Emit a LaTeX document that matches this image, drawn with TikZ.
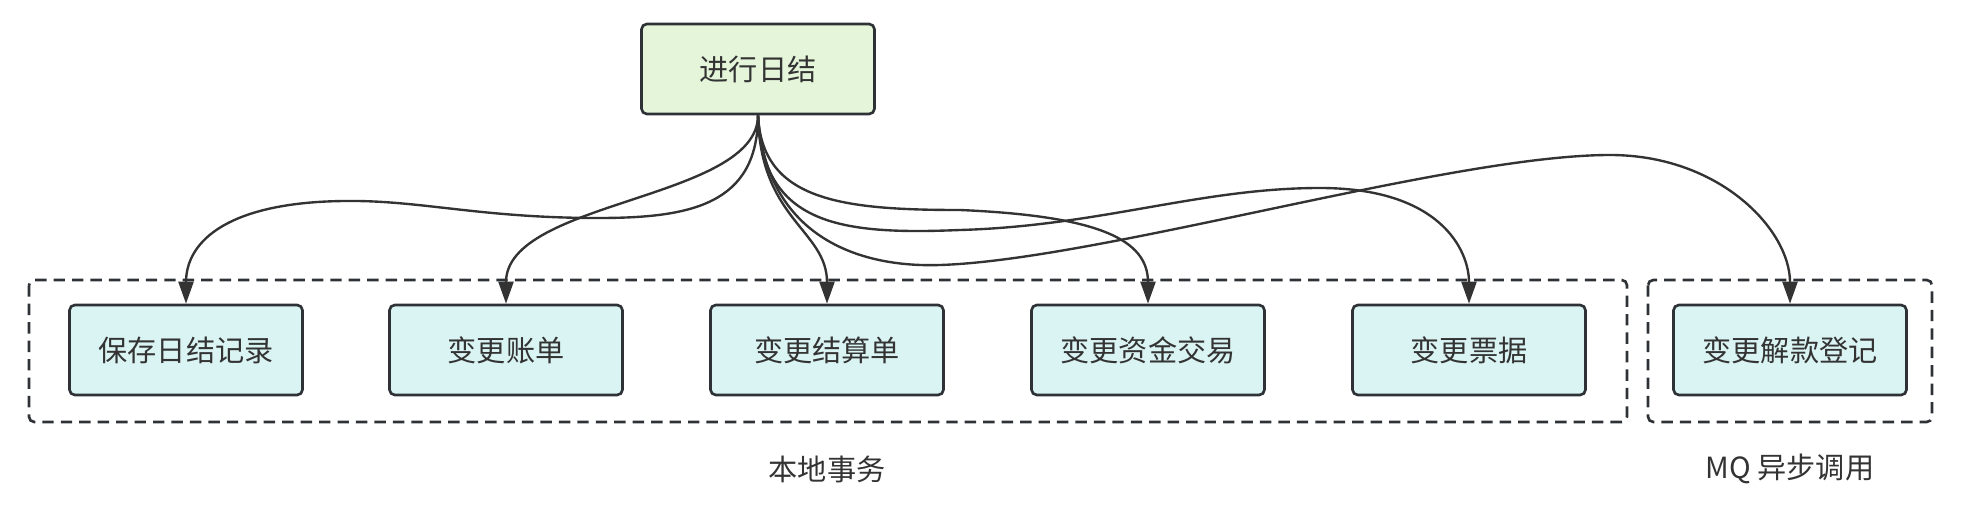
\documentclass[tikz,border=0pt]{standalone}
\usepackage{fontspec}
\setmainfont{Noto Sans CJK SC}
\usetikzlibrary{arrows.meta}
\definecolor{inkgray}{HTML}{333333}
\definecolor{boxline}{HTML}{2E3236}
\definecolor{startfill}{HTML}{E4F5DA}
\definecolor{taskfill}{HTML}{DAF4F3}
\tikzstyle{startnode}=[draw=boxline, fill=startfill, line width=1.5pt, rounded corners=3pt, minimum width=4.66cm, minimum height=1.8cm, inner sep=0pt, text=inkgray, font=\fontsize{16.6}{20}\selectfont]
\tikzstyle{tasknode}=[startnode, fill=taskfill]
\tikzstyle{grouptitle}=[text=inkgray, font=\fontsize{16.6}{20}\selectfont]
\tikzstyle{group}=[boxline, line width=1.5pt, dash pattern=on 6.5pt off 4pt, rounded corners=3pt]
\tikzstyle{call}=[inkgray, line width=1.35pt, -{Triangle[length=0.44cm, width=0.3cm]}]

\begin{document}
\begin{tikzpicture}[x=0.02cm, y=-0.02cm]
	\useasboundingbox (0,0) rectangle (1970,510);

	\node[startnode] (rijie) at (758,69) {进行日结};

	\node[tasknode] (baocun) at (186,350) {保存日结记录};
	\node[tasknode] (zhangdan) at (506,350) {变更账单};
	\node[tasknode] (jiesuan) at (827,350) {变更结算单};
	\node[tasknode] (zijin) at (1148,350) {变更资金交易};
	\node[tasknode] (piaoju) at (1469,350) {变更票据};
	\node[tasknode] (jiekuan) at (1790,350) {变更解款登记};

	\draw[group] (29,280) rectangle (1627,422);
	\draw[group] (1648,280) rectangle (1932,422);
	\node[grouptitle] (bendi) at (827,469) {本地事务};
	\node[grouptitle] (mq) at (1790,469) {MQ 异步调用};

	\draw[call] (rijie.south) .. controls (758,205) and (690,218) .. (598,218)
		.. controls (480,218) and (420,200) .. (345,201)
		.. controls (230,202) and (186,240) .. (baocun.north);
	\draw[call] (rijie.south) .. controls (758,200) and (506,200) .. (zhangdan.north);
	\draw[call] (rijie.south) .. controls (760,220) and (827,230) .. (jiesuan.north);
	\draw[call] (rijie.south) .. controls (762,200) and (840,210) .. (960,210)
		.. controls (1100,216) and (1148,240) .. (zijin.north);
	\draw[call] (rijie.south) .. controls (762,225) and (840,235) .. (960,230)
		.. controls (1100,226) and (1200,188) .. (1320,188)
		.. controls (1440,188) and (1469,250) .. (piaoju.north);
	\draw[call] (rijie.south) .. controls (765,230) and (850,268) .. (940,265)
		.. controls (1100,260) and (1450,155) .. (1610,155)
		.. controls (1720,155) and (1790,230) .. (jiekuan.north);
\end{tikzpicture}
\end{document}
